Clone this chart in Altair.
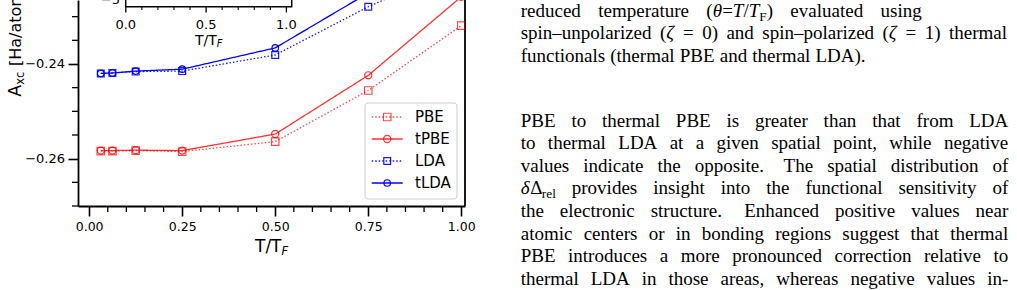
import altair as alt
import pandas as pd

# ---------------- data ----------------
T_OVER_TF = [0.03125, 0.0625, 0.125, 0.25, 0.5, 0.75, 1.0]
A_PBE = [-0.2584, -0.2584, -0.2583, -0.2585, -0.2564, -0.2456, -0.2319]
A_TPBE = [-0.2583, -0.2583, -0.2582, -0.2583, -0.2548, -0.2424, -0.2258]
A_LDA = [-0.2420, -0.2419, -0.2416, -0.2415, -0.2381, -0.2279, -0.2192]
A_TLDA = [-0.2420, -0.2419, -0.2415, -0.2411, -0.2366, -0.2250, -0.2130]
SERIES = ["PBE", "tPBE", "LDA", "tLDA"]
COLORS = ["#ff0000", "#ff0000", "#0000ff", "#0000ff"]

X_MAJOR = [0.0, 0.25, 0.5, 0.75, 1.0]
X_MINOR = [0.05, 0.1, 0.15, 0.2, 0.3, 0.35, 0.4, 0.45, 0.55, 0.6, 0.65, 0.7,
           0.8, 0.85, 0.9, 0.95]
Y_MAJOR = [-0.26, -0.24]
Y_MINOR = [-0.27, -0.265, -0.255, -0.25, -0.245, -0.235, -0.23]
INSET_MAJOR = [0.0, 0.5, 1.0]
INSET_MINOR = [0.1, 0.2, 0.3, 0.4, 0.6, 0.7, 0.8, 0.9]

CAPTION_LINES = [
    "reduced temperature (*θ*=*T*/*T*_{F}) evaluated using",
    "spin–unpolarized (*ζ* = 0) and spin–polarized (*ζ* = 1) thermal",
    "functionals (thermal PBE and thermal LDA).",
]
BODY_LINES = [
    "PBE to thermal PBE is greater than that from LDA",
    "to thermal LDA at a given spatial point, while negative",
    "values indicate the opposite. The spatial distribution of",
    "*δ*Δ_{rel} provides insight into the functional sensitivity of",
    "the electronic structure. Enhanced positive values near",
    "atomic centers or in bonding regions suggest that thermal",
    "PBE introduces a more pronounced correction relative to",
    "thermal LDA in those areas, whereas negative values in-",
]

# ---------------- geometry ----------------
W, H = 387, 206
PAD = {"left": 78, "top": 0, "right": 552, "bottom": 84}
ONE = pd.DataFrame({"k": [0]})

rows = []
for name, vals in zip(SERIES, [A_PBE, A_TPBE, A_LDA, A_TLDA]):
    for t, a in zip(T_OVER_TF, vals):
        rows.append({"series": name, "t": t, "axc": a})
df = pd.DataFrame(rows)

x_scale = alt.Scale(domain=[-0.03, 1.01], nice=False, zero=False)
y_scale = alt.Scale(domain=[-0.27, -0.22648], nice=False, zero=False)

x_axis = alt.Axis(values=X_MAJOR, format=".2f", orient="bottom", title=None, grid=False,
                  tickSize=10, tickWidth=1.6, tickColor="black", domainColor="black",
                  domainWidth=1.8, labelFont="DejaVu Sans", labelFontSize=12.5,
                  labelColor="black", labelPadding=4, labelFlush=False)
y_axis = alt.Axis(values=Y_MAJOR, format=".2f", orient="left", title=None, grid=False,
                  tickSize=10, tickWidth=1.6, tickColor="black", domainColor="black",
                  domainWidth=1.8, labelFont="DejaVu Sans", labelFontSize=13,
                  labelColor="black", labelPadding=3.5, labelFlush=False)

color = alt.Color("series:N", scale=alt.Scale(domain=SERIES, range=COLORS), legend=None)
dash = alt.StrokeDash("series:N", scale=alt.Scale(domain=SERIES,
                      range=[[1.5, 2], [1, 0], [1.5, 2], [1, 0]]), legend=None)
opac = alt.Opacity("series:N", scale=alt.Scale(domain=SERIES, range=[0.7, 1, 0.7, 1]),
                   legend=None)
shape = alt.Shape("series:N", scale=alt.Scale(domain=SERIES,
                  range=["square", "circle", "square", "circle"]), legend=None)
msize = alt.Size("series:N", scale=alt.Scale(domain=SERIES, range=[56, 42, 56, 42]),
                 legend=None)

X = alt.X("t:Q", scale=x_scale, axis=x_axis)
Y = alt.Y("axc:Q", scale=y_scale, axis=y_axis)

lines = alt.Chart(df).mark_line(clip=True, strokeWidth=1.3).encode(
    x=X, y=Y, color=color, strokeDash=dash, opacity=opac, detail="series:N")
points = alt.Chart(df).mark_point(clip=True, filled=False, strokeWidth=1.2).encode(
    x=X, y=Y, color=color, opacity=opac, shape=shape, size=msize)

xminor = alt.Chart(pd.DataFrame({"t": X_MINOR})).mark_rule(color="black", strokeWidth=1.3).encode(
    x=X, y=alt.value(H), y2=alt.value(H + 6))
yminor = alt.Chart(pd.DataFrame({"axc": Y_MINOR})).mark_rule(color="black", strokeWidth=1.3).encode(
    y=Y, x=alt.value(-6), x2=alt.value(0))
rspine = alt.Chart(ONE).mark_rule(color="black", strokeWidth=1.8).encode(
    x=alt.value(W), y=alt.value(0), y2=alt.value(H))

main = alt.layer(xminor, yminor, rspine, lines, points)

# ---------------- inset (only its lower edge is visible) ----------------
inset_scale = alt.Scale(domain=[-0.2976, 2.1121], nice=False, zero=False)
IX = alt.X("v:Q", scale=inset_scale, axis=None)
ibox = alt.Chart(ONE).mark_rect(fill="white", stroke="black", strokeWidth=1.5).encode(
    x=alt.value(47.7), x2=alt.value(213.7), y=alt.value(-30), y2=alt.value(6.7))
imaj = alt.Chart(pd.DataFrame({"v": INSET_MAJOR})).mark_rule(color="black", strokeWidth=1.3).encode(
    x=IX, y=alt.value(6.7), y2=alt.value(12.5))
imin = alt.Chart(pd.DataFrame({"v": INSET_MINOR})).mark_rule(color="black", strokeWidth=1.1).encode(
    x=IX, y=alt.value(6.7), y2=alt.value(10))
ilab = alt.Chart(pd.DataFrame({"v": INSET_MAJOR})).mark_text(
    font="DejaVu Sans", fontSize=13, align="center", baseline="alphabetic", color="black").encode(
    x=IX, y=alt.value(29.3), text=alt.Text("v:Q", format=".1f"))
inset = alt.layer(ibox, imin, imaj, ilab)

# ---------------- legend ----------------
leg_df = pd.DataFrame({"series": SERIES})
LY = alt.Y("series:N", scale=alt.Scale(type="point", domain=SERIES, range=[117, 183], padding=0),
           axis=None)
lframe = alt.Chart(ONE).mark_rect(fill="white", fillOpacity=0.8, stroke="#cccccc", strokeWidth=1,
                                  cornerRadius=3).encode(
    x=alt.value(287), x2=alt.value(379), y=alt.value(103), y2=alt.value(199))
lline = alt.Chart(leg_df).mark_rule(strokeWidth=1.3).encode(
    y=LY, x=alt.value(293.7), x2=alt.value(324.7), color=color, strokeDash=dash, opacity=opac)
lpt = alt.Chart(leg_df).mark_point(filled=False, strokeWidth=1.2).encode(
    y=LY, x=alt.value(309.2), color=color, shape=shape, size=msize, opacity=opac)
ltxt = alt.Chart(leg_df).mark_text(font="DejaVu Sans", fontSize=15, align="left",
                                   baseline="middle", color="black").encode(
    y=LY, x=alt.value(337), text="series:N")
legend = alt.layer(lframe, lline, lpt, ltxt)

# ---------------- running text (justified layout with Times metrics) ----------------
TW = {' ': 250, '(': 333, ')': 333, ',': 250, '-': 333, '.': 250, '/': 278, '=': 564,
      '–': 500, 'θ': 500, 'ζ': 440, 'δ': 500, 'Δ': 612,
      'A': 722, 'B': 667, 'C': 667, 'D': 722, 'E': 611, 'F': 556, 'G': 722, 'H': 722,
      'I': 333, 'L': 611, 'P': 556, 'T': 611,
      'a': 444, 'b': 500, 'c': 444, 'd': 500, 'e': 444, 'f': 333, 'g': 500, 'h': 500,
      'i': 278, 'j': 278, 'k': 500, 'l': 278, 'm': 778, 'n': 500, 'o': 500, 'p': 500,
      'q': 500, 'r': 333, 's': 389, 't': 278, 'u': 500, 'v': 500, 'w': 722, 'x': 500,
      'y': 500, 'z': 444}
TWI = {'T': 556}


def seg_w(txt, italic, size):
    tot = 0
    for c in txt:
        tot += TWI[c] if (italic and c in TWI) else TW.get(c, 500)
    return tot / 1000.0 * size


def parse(word):
    segs, buf, it, sub, i = [], "", False, False, 0
    while i < len(word):
        ch = word[i]
        if ch == '*':
            if buf:
                segs.append((buf, it, sub)); buf = ""
            it = not it
        elif word.startswith("_{", i):
            if buf:
                segs.append((buf, it, sub)); buf = ""
            sub = True
            i += 1
        elif ch == '}' and sub:
            if buf:
                segs.append((buf, it, sub)); buf = ""
            sub = False
        else:
            buf += ch
        i += 1
    if buf:
        segs.append((buf, it, sub))
    return segs


def layout(lines, x0, base0, step, targets, fs):
    out = []
    for k, line in enumerate(lines):
        raw = line.split(" ")
        words = [parse(w) for w in raw]
        widths = [sum(seg_w(t, it, fs * 0.7 if sb else fs) for t, it, sb in segs) for segs in words]
        n = len(words) - 1
        weights = [1.4 if raw[j].endswith('.') else 1.0 for j in range(n)]
        if targets[k] is None:
            gaps = [fs * 0.27] * n
        else:
            extra = targets[k] - x0 - sum(widths)
            gaps = [extra * w / sum(weights) for w in weights]
        x = x0
        y = base0 + k * step
        for j, segs in enumerate(words):
            for t, it, sb in segs:
                s = fs * 0.7 if sb else fs
                out.append({"x": x, "y": y + (0.2 * fs if sb else 0), "text": t,
                            "size": s, "italic": it})
                x += seg_w(t, it, s)
            if j < n:
                x += gaps[j]
    return out


FS = 19
serif_rows = layout(CAPTION_LINES, 442.7, 17.0, 22.3, [843.7, 929.0, None], FS)
serif_rows += layout(BODY_LINES, 442.7, 126.5, 22.6, [930.3] * len(BODY_LINES), FS)
serif_df = pd.DataFrame(serif_rows)

sans_df = pd.DataFrame([
    {"x": 177.0, "y": 251.7, "text": "T/T", "size": 17.0, "italic": False},
    {"x": 203.5, "y": 254.5, "text": "F", "size": 11.5, "italic": True},
    {"x": 117.0, "y": 45.0, "text": "T/T", "size": 14.0, "italic": False},
    {"x": 138.8, "y": 47.3, "text": "F", "size": 9.8, "italic": True},
    {"x": 22.8, "y": 4.0, "text": "−5", "size": 13.0, "italic": False},
])

ytitle_df = pd.DataFrame([
    {"x": -57.3, "y": 96.7, "text": "A", "size": 17.5},
    {"x": -54.0, "y": 84.7, "text": "xc", "size": 11.5},
    {"x": -57.3, "y": 66.0, "text": "[Ha/atom]", "size": 16.0},
])


def text_layer(data, font, italic=None, angle=None):
    d = data if italic is None else data[data["italic"] == italic]
    kw = dict(font=font, align="left", baseline="alphabetic", color="black")
    if italic:
        kw["fontStyle"] = "italic"
    if angle is not None:
        kw["angle"] = angle
    return alt.Chart(d).mark_text(**kw).encode(
        x=alt.X("x:Q", scale=None, axis=None),
        y=alt.Y("y:Q", scale=None, axis=None),
        text="text:N",
        size=alt.Size("size:Q", scale=None, legend=None),
    )


texts = [
    text_layer(serif_df, "Liberation Serif", False),
    text_layer(serif_df, "Liberation Serif", True),
    text_layer(sans_df, "DejaVu Sans", False),
    text_layer(sans_df, "DejaVu Sans", True),
    text_layer(ytitle_df, "DejaVu Sans", None, 270),
]

chart = alt.layer(main, inset, legend, *texts).resolve_scale(
    x="independent", y="independent", size="independent"
).properties(
    width=W, height=H,
    autosize=alt.AutoSizeParams(type="none"),
    padding=PAD,
    background="white",
).configure_view(strokeWidth=0)

chart.save("out.html", embed_options={"renderer": "svg", "actions": False})
